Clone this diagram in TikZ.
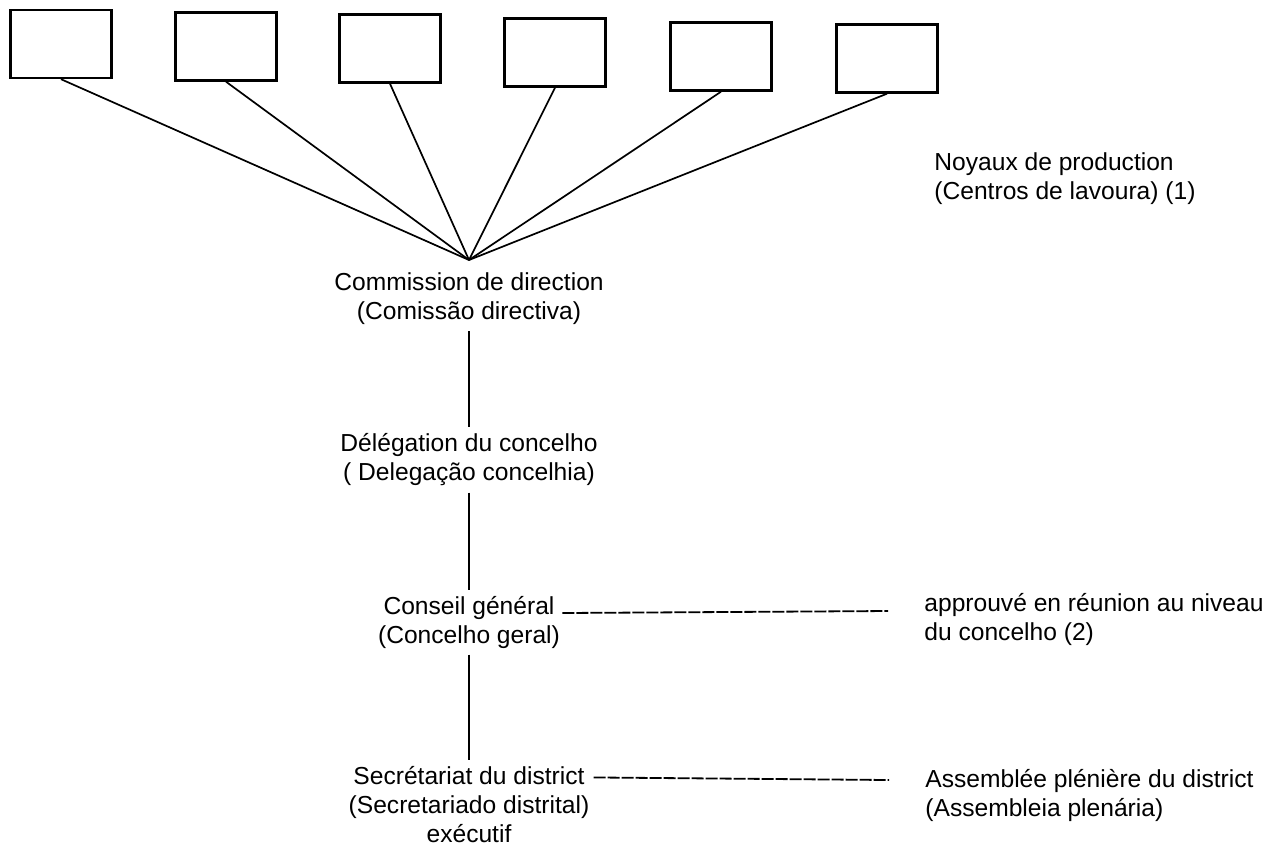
\documentclass[tikz,border=0pt]{standalone}
\usepackage{fontspec}
\setmainfont{Liberation Sans}
\usetikzlibrary{arrows}
\tikzstyle{every picture}=[x=0.5pt, y=-0.5pt, node distance=80pt]
\tikzstyle{noyau}=[draw, line width=1.2pt, minimum width=50.5pt, minimum height=34pt, inner sep=0pt]
\tikzstyle{orgao}=[align=center, inner sep=3pt, font=\fontsize{12.3}{14.5}\selectfont]
\tikzstyle{nota}=[align=left, anchor=base west, inner sep=0pt, font=\fontsize{12.3}{14.5}\selectfont]
\tikzstyle{liga}=[line width=0.85pt]
\tikzstyle{tirets}=[line width=0.9pt, dash pattern=on 6pt off 1pt]

\begin{document}
\begin{tikzpicture}
\useasboundingbox (0,0) rectangle (1268,848);
\node[noyau] (n1) at (61,44) {};
\node[noyau] (n2) at (226,46.5) {};
\node[noyau] (n3) at (390,48.5) {};
\node[noyau] (n4) at (555,52.5) {};
\node[noyau] (n5) at (721,56.5) {};
\node[noyau] (n6) at (887,58.5) {};
\coordinate (hub) at (469,260);
\path (hub) edge[liga] (n1.south) edge[liga] (n2.south) edge[liga] (n3.south)
	edge[liga] (n4.south) edge[liga] (n5.south) edge[liga] (n6.south);
\node[orgao] (cd) [below of=hub, node distance=19.5pt] {Commission de direction\\%
	(Comissão directiva)};
\node[orgao] (dc) [below of=cd, node distance=80.5pt] {Délégation du concelho\\%
	( Delegação concelhia)};
\node[orgao] (cg) [below of=dc, node distance=81pt] {Conseil général\\%
	(Concelho geral)};
\node[orgao] (sd) [below of=cg, node distance=91.25pt] {Secrétariat du district\\%
	(Secretariado distrital)\\ exécutif};
\node[nota] (np) at (934,199) {Noyaux de production\\(Centros de lavoura) (1)};
\node[nota] (ap) at (924,640) {approuvé en réunion au niveau\\du concelho (2)};
\node[nota] (ap2) at (925,816) {Assemblée plénière du district\\(Assembleia plenária)};
\path (cd) edge[liga] (dc);
\path (dc) edge[liga] (cg);
\path (cg) edge[liga] (sd);
\draw[tirets] ([xshift=-2pt,yshift=15pt]cg.base east) -- ([xshift=-18pt,yshift=14.5pt]ap.base west);
\draw[tirets] ([xshift=-1pt,yshift=32.5pt]sd.base east) -- ([xshift=-18pt,yshift=18pt]ap2.base west);
\end{tikzpicture}
\end{document}
